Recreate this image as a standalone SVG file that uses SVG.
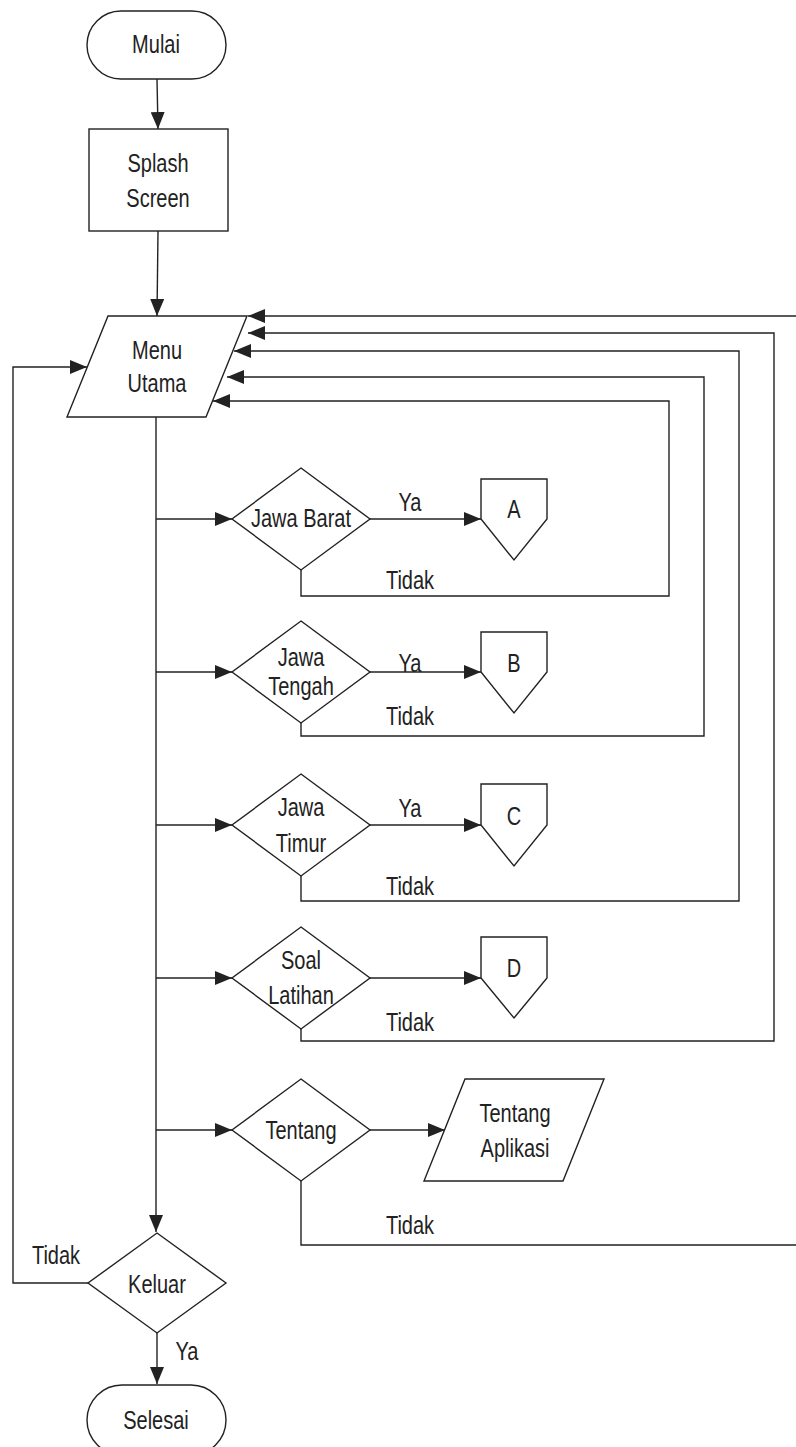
<svg xmlns="http://www.w3.org/2000/svg" width="796" height="1447" viewBox="0 0 796 1447">
  <style>
    .shape { fill: #ffffff; stroke: #222222; stroke-width: 1.4; }
    .line { fill: none; stroke: #222222; stroke-width: 1.4; }
    .arrow { marker-end: url(#head); }
    text { font-family: "Liberation Sans", Arial, sans-serif; font-size: 20px; fill: #222222; text-anchor: middle; }
  </style>
  <defs>
    <marker id="head" markerUnits="userSpaceOnUse" markerWidth="18" markerHeight="14" refX="17" refY="7" orient="auto">
      <path d="M0,0 L17,7 L0,14 Z" fill="#222222"/>
    </marker>
  </defs>
  <rect width="796" height="1447" fill="#ffffff"/>

  <!-- connectors -->
  <g id="connectors">
    <path class="line arrow" d="M157,79 L158,129"/>
    <path class="line arrow" d="M158,231 L157,316"/>
    <!-- main spine -->
    <path class="line arrow" d="M156,417 L156,1232"/>
    <!-- branches from spine -->
    <path class="line arrow" d="M156,519 L232,519"/>
    <path class="line arrow" d="M156,672 L232,672"/>
    <path class="line arrow" d="M156,825 L232,825"/>
    <path class="line arrow" d="M156,978 L232,978"/>
    <path class="line arrow" d="M156,1130 L232,1130"/>
    <!-- Ya branches -->
    <path class="line arrow" d="M370,519 L481,519"/>
    <path class="line arrow" d="M370,672 L481,672"/>
    <path class="line arrow" d="M370,825 L481,825"/>
    <path class="line arrow" d="M370,978 L481,978"/>
    <path class="line arrow" d="M370,1130 L445,1130"/>
    <!-- Tidak returns to Menu Utama -->
    <path class="line arrow" d="M301,570 L301,596 L669,596 L669,401 L213,401"/>
    <path class="line arrow" d="M301,723 L301,736 L704,736 L704,377 L227,377"/>
    <path class="line arrow" d="M301,876 L301,901 L739,901 L739,351 L234,351"/>
    <path class="line arrow" d="M301,1029 L301,1041 L774,1041 L774,333 L248,333"/>
    <path class="line" d="M301,1181 L301,1245 L797,1245"/>
    <path class="line arrow" d="M797,316 L248,316"/>
    <!-- Keluar: Tidak loops back, Ya ends -->
    <path class="line arrow" d="M88,1283 L13,1283 L13,367 L87,367"/>
    <path class="line arrow" d="M157,1333 L157,1384"/>
  </g>

  <!-- connector labels -->
  <g id="labels">
    <text transform="translate(410,511) scale(1,1.25)">Ya</text>
    <text transform="translate(410,672) scale(1,1.25)">Ya</text>
    <text transform="translate(410,817) scale(1,1.25)">Ya</text>
    <text transform="translate(410,589) scale(1,1.25)">Tidak</text>
    <text transform="translate(410,725) scale(1,1.25)">Tidak</text>
    <text transform="translate(410,895) scale(1,1.25)">Tidak</text>
    <text transform="translate(410,1031) scale(1,1.25)">Tidak</text>
    <text transform="translate(410,1234) scale(1,1.25)">Tidak</text>
    <text transform="translate(56,1264) scale(1,1.25)">Tidak</text>
    <text transform="translate(187,1360) scale(1,1.25)">Ya</text>
  </g>

  <g id="mulai">
    <rect class="shape" x="87" y="11" width="139" height="68" rx="34" ry="34"/>
    <text transform="translate(156,53) scale(1,1.25)">Mulai</text>
  </g>

  <g id="splash">
    <rect class="shape" x="89" y="129" width="139" height="102"/>
    <text transform="translate(158,172) scale(1,1.25)">Splash</text>
    <text transform="translate(158,207) scale(1,1.25)">Screen</text>
  </g>

  <g id="menu-utama">
    <polygon class="shape" points="108,316 247,316 206,417 67,417"/>
    <text transform="translate(157,359) scale(1,1.25)">Menu</text>
    <text transform="translate(157,392) scale(1,1.25)">Utama</text>
  </g>

  <g id="jawa-barat">
    <polygon class="shape" points="301,468 370,519 301,570 232,519"/>
    <text transform="translate(301,527) scale(1,1.25)">Jawa Barat</text>
  </g>
  <g id="conn-a">
    <polygon class="shape" points="481,479 547,479 547,519 514,560 481,519"/>
    <text transform="translate(514,518) scale(1,1.25)">A</text>
  </g>

  <g id="jawa-tengah">
    <polygon class="shape" points="301,621 370,672 301,723 232,672"/>
    <text transform="translate(301,666) scale(1,1.25)">Jawa</text>
    <text transform="translate(301,695) scale(1,1.25)">Tengah</text>
  </g>
  <g id="conn-b">
    <polygon class="shape" points="481,632 547,632 547,672 514,713 481,672"/>
    <text transform="translate(514,672) scale(1,1.25)">B</text>
  </g>

  <g id="jawa-timur">
    <polygon class="shape" points="301,774 370,825 301,876 232,825"/>
    <text transform="translate(301,816) scale(1,1.25)">Jawa</text>
    <text transform="translate(301,852) scale(1,1.25)">Timur</text>
  </g>
  <g id="conn-c">
    <polygon class="shape" points="481,784 547,784 547,825 514,866 481,825"/>
    <text transform="translate(514,825) scale(1,1.25)">C</text>
  </g>

  <g id="soal-latihan">
    <polygon class="shape" points="301,927 370,978 301,1029 232,978"/>
    <text transform="translate(301,969) scale(1,1.25)">Soal</text>
    <text transform="translate(301,1004) scale(1,1.25)">Latihan</text>
  </g>
  <g id="conn-d">
    <polygon class="shape" points="481,937 547,937 547,978 514,1018 481,978"/>
    <text transform="translate(514,977) scale(1,1.25)">D</text>
  </g>

  <g id="tentang">
    <polygon class="shape" points="301,1079 370,1130 301,1181 232,1130"/>
    <text transform="translate(301,1139) scale(1,1.25)">Tentang</text>
  </g>
  <g id="tentang-aplikasi">
    <polygon class="shape" points="465,1079 604,1079 563,1181 424,1181"/>
    <text transform="translate(515,1122) scale(1,1.25)">Tentang</text>
    <text transform="translate(515,1157) scale(1,1.25)">Aplikasi</text>
  </g>

  <g id="keluar">
    <polygon class="shape" points="157,1233 226,1283 157,1333 88,1283"/>
    <text transform="translate(157,1293) scale(1,1.25)">Keluar</text>
  </g>

  <g id="selesai">
    <rect class="shape" x="87" y="1385" width="139" height="70" rx="35" ry="35"/>
    <text transform="translate(156,1429) scale(1,1.25)">Selesai</text>
  </g>
</svg>
